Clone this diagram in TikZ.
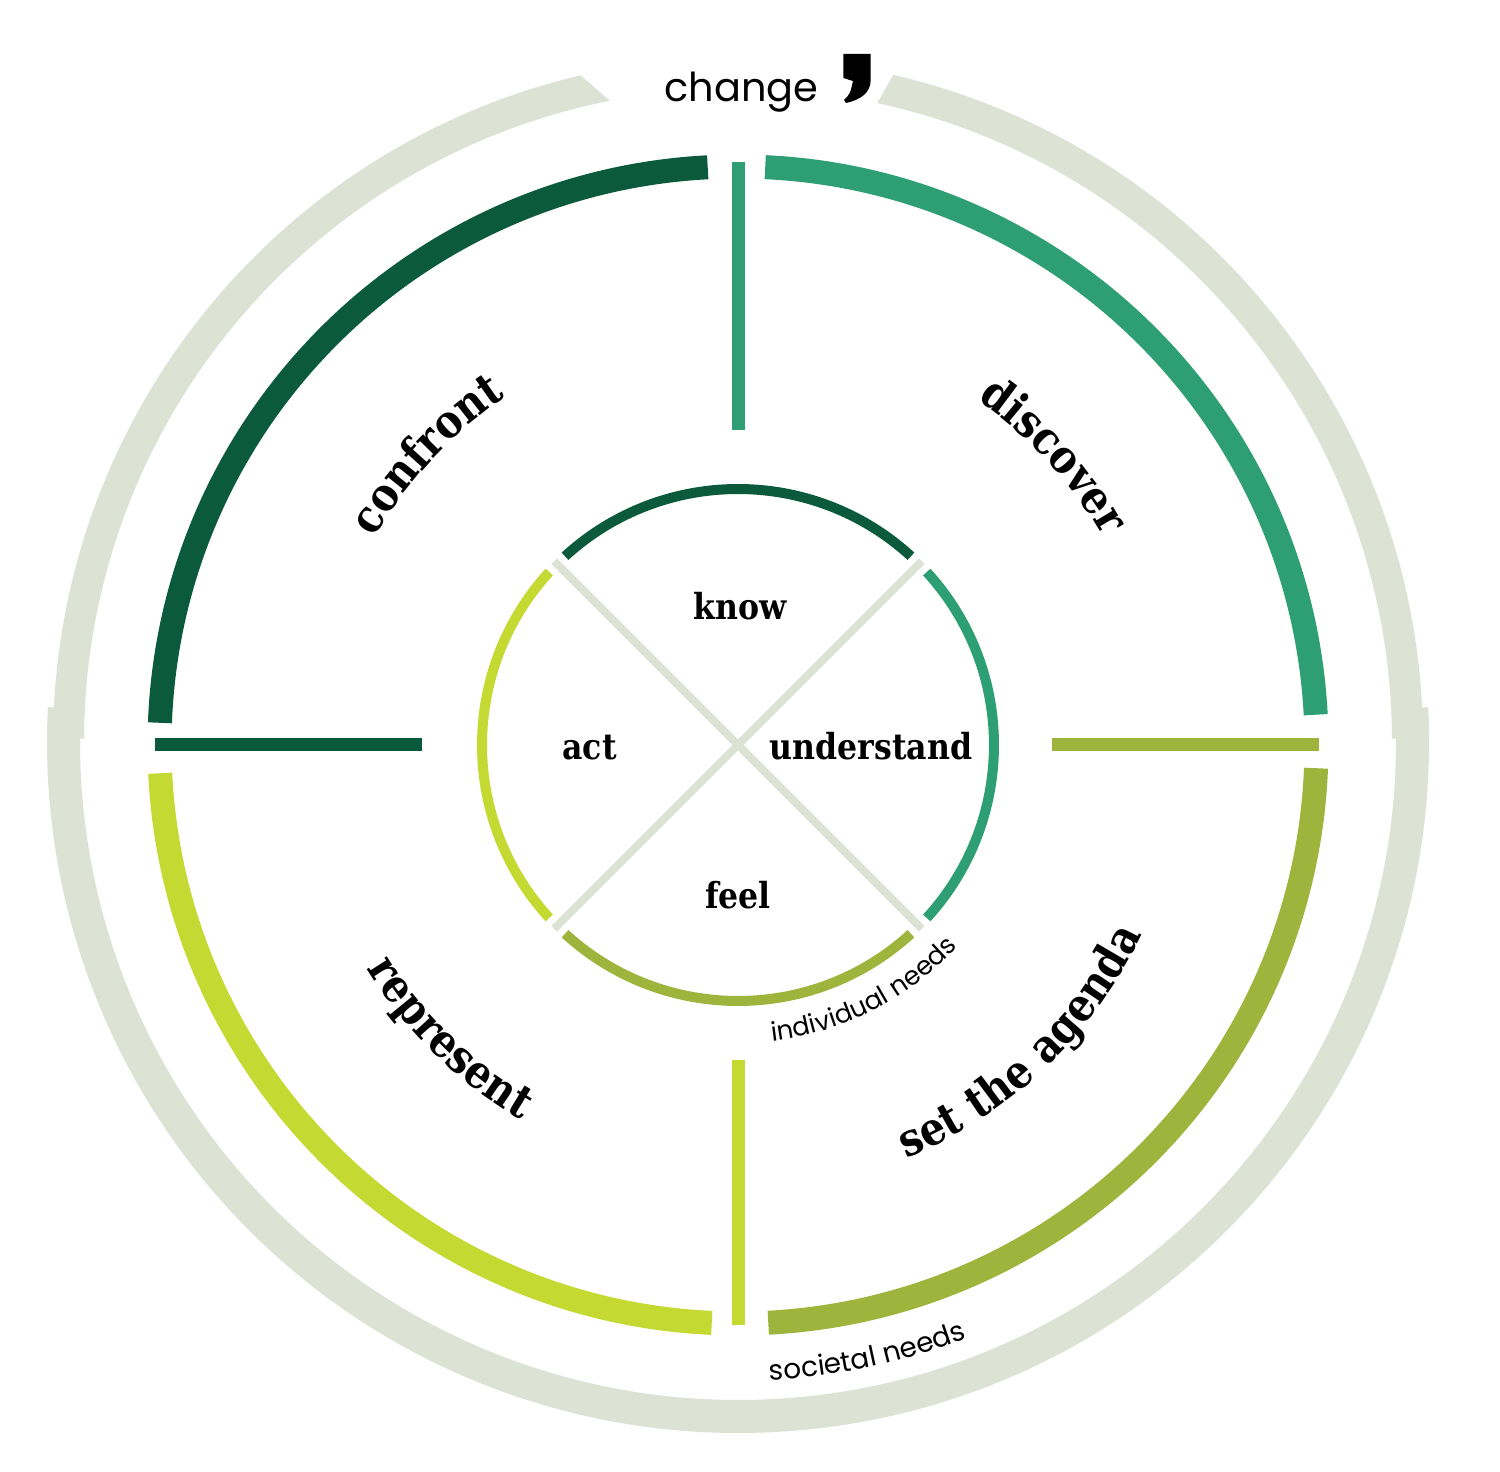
\documentclass[tikz,border=0pt]{standalone}
\usepackage{fontspec}
\setmainfont{DejaVu Serif}
\newfontfamily\slab{DejaVu Serif}[FakeStretch=0.88]
\newfontfamily\geo{Poppins}
\usetikzlibrary{decorations.text}
\definecolor{darkg}{HTML}{0C5A3D}
\definecolor{tealg}{HTML}{2E9E74}
\definecolor{oliveg}{HTML}{9EB43C}
\definecolor{limeg}{HTML}{C4D931}
\definecolor{greyc}{HTML}{DCE2D4}
\newcommand\curvefont{\slab\bfseries\fontsize{46}{54}\selectfont}
\newcommand\centerfont{\slab\bfseries\fontsize{36}{42}\selectfont}
\tikzset{
  ringarc/.style={line width=24bp},
  spoke/.style={line width=13bp},
  innerarc/.style={line width=10bp},
  ctext/.style={font=\centerfont, anchor=base, inner sep=0pt},
}
\begin{document}
\begin{tikzpicture}[x=1bp,y=1bp,line cap=butt]
\useasboundingbox (-738,-727) rectangle (762,745);
\fill[white] (-738,-727) rectangle (762,745);

% outer grey ring
\begin{scope}[shift={(0,3)}]
\fill[greyc] (76.9:685bp) arc[start angle=76.9, end angle=0.3, radius=685bp]
  -- (0.3:654bp) arc[start angle=0.3, end angle=77.7, radius=654bp] -- cycle;
\fill[greyc] (103.3:685bp) arc[start angle=103.3, end angle=179.7, radius=685bp]
  -- (179.7:654bp) arc[start angle=179.7, end angle=101.3, radius=654bp] -- cycle;
\draw[greyc, line width=33bp] (2.9:674.5bp) arc[start angle=2.9, end angle=-182.9, radius=674.5bp];
\end{scope}

% coloured ring
\draw[darkg, ringarc]  (177.8:578.5bp) arc[start angle=177.8, end angle=93, radius=578.5bp];
\draw[tealg, ringarc]  (87.3:578.5bp) arc[start angle=87.3, end angle=3, radius=578.5bp];
\draw[oliveg, ringarc] (-2.3:578.5bp) arc[start angle=-2.3, end angle=-87, radius=578.5bp];
\draw[limeg, ringarc]  (-92.6:578.5bp) arc[start angle=-92.6, end angle=-177.2, radius=578.5bp];

% spokes
\draw[tealg, spoke]  (0.5,583) -- (0.5,315);
\draw[darkg, spoke]  (-583,0) -- (-316,0);
\draw[oliveg, spoke] (314,0) -- (581,0);
\draw[limeg, spoke]  (0,-315) -- (0,-580);

% inner cross
\draw[greyc, line width=8bp] (135:260bp) -- (-45:260bp);
\draw[greyc, line width=8bp] (45:260bp) -- (225:260bp);

% inner arcs
\draw[darkg, innerarc]  (132.5:256bp) arc[start angle=132.5, end angle=47.5, radius=256bp];
\draw[tealg, innerarc]  (42.5:256bp) arc[start angle=42.5, end angle=-42.5, radius=256bp];
\draw[oliveg, innerarc] (-47.5:256bp) arc[start angle=-47.5, end angle=-132.5, radius=256bp];
\draw[limeg, innerarc]  (137.5:256bp) arc[start angle=137.5, end angle=222.5, radius=256bp];

% centre texts
\node[ctext] (know) at (2.5,125) {know};
\node[ctext] (act) at (-148.5,-15) {act};
\node[ctext] (understand) at (133,-15) {understand};
\node[ctext] (feel) at (0,-163) {feel};

% curved texts
\path[decorate, decoration={text along path, text align=center, text={|\curvefont|confront}}]
  (177:418bp) arc[start angle=177, end angle=97, radius=418bp];
\path[decorate, decoration={text along path, text align=center, text={|\curvefont|discover}}]
  (82.5:420bp) arc[start angle=82.5, end angle=2.5, radius=420bp];
\path[decorate, decoration={text along path, text align=center, text={|\curvefont|represent}}]
  (185.5:433bp) arc[start angle=185.5, end angle=265.5, radius=433bp];
\path[decorate, decoration={text along path, text align=center, text={|\curvefont|set the agenda}}]
  (-96.5:446bp) arc[start angle=-96.5, end angle=3.5, radius=446bp];

% small sans texts
\path[decorate, decoration={text along path, text align=center, text={|\geo\fontsize{26}{31}\selectfont|individual needs}}]
  (-103:298bp) arc[start angle=-103, end angle=-23, radius=298bp];
\path[decorate, decoration={text along path, text align=center, text={|\geo\fontsize{28}{34}\selectfont|societal needs}}]
  (-108:636bp) arc[start angle=-108, end angle=-48, radius=636bp];

% change
\node[font=\geo\fontsize{40}{48}\selectfont, anchor=base, inner sep=0pt] (change) at (3.5,643) {change};
\fill[black] (105.3,691) -- (132.7,691) -- (132.7,665)
  .. controls (132.7,652) and (122,645) .. (108,642)
  -- (106,645) .. controls (112,651) .. (115,664) -- (105.3,667) -- cycle;
\end{tikzpicture}
\end{document}
